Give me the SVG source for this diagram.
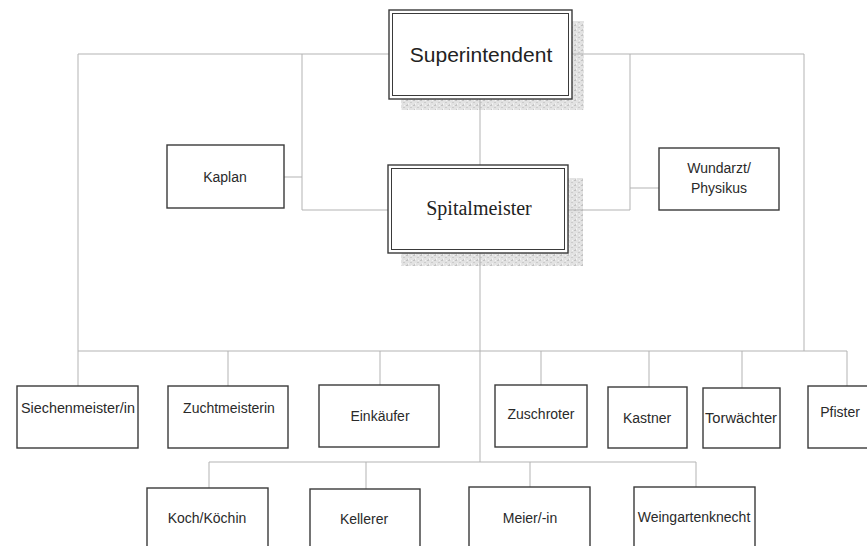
<svg xmlns="http://www.w3.org/2000/svg" width="867" height="546" viewBox="0 0 867 546">
<defs>
<pattern id="noise" width="7" height="5" patternUnits="userSpaceOnUse">
<rect width="7" height="5" fill="#e2e2e2"/>
<rect x="0" y="0" width="2" height="1" fill="#c2c2c2"/>
<rect x="4" y="2" width="2" height="1" fill="#cbcbcb"/>
<rect x="2" y="3" width="1" height="2" fill="#f2f2f2"/>
<rect x="5" y="0" width="1" height="1" fill="#f4f4f4"/>
<rect x="1" y="4" width="1" height="1" fill="#c8c8c8"/>
</pattern>
</defs>
<style>
.box{fill:#ffffff;stroke:#3a3a3a;stroke-width:1.4}
.inner{fill:none;stroke:#3a3a3a;stroke-width:1}
.shadow{fill:url(#noise)}
.conn{fill:none;stroke:#b3b3b3;stroke-width:1}
.t{font-family:"Liberation Sans",Arial,sans-serif;font-size:14px;fill:#2a2a2a;text-anchor:middle}
.big{font-family:"Liberation Sans",Arial,sans-serif;font-size:21px;fill:#222;text-anchor:middle}
.serif{font-family:"Liberation Serif","Times New Roman",serif;font-size:20px;fill:#222;text-anchor:middle}
</style>
<rect width="867" height="546" fill="#ffffff"/>
<g id="shadows">
<rect class="shadow" x="401" y="21" width="183" height="89"/>
<rect class="shadow" x="401" y="178" width="182" height="88"/>
</g>
<g id="connectors">
<path class="conn" d="M78,54 H804"/>
<path class="conn" d="M78,54 V386"/>
<path class="conn" d="M804,54 V351"/>
<path class="conn" d="M302,54 V210 H388"/>
<path class="conn" d="M284,177 H302"/>
<path class="conn" d="M630,54 V210 H568"/>
<path class="conn" d="M659,188 H630"/>
<path class="conn" d="M480,99 V165"/>
<path class="conn" d="M480,253 V462"/>
<path class="conn" d="M78,351 H847"/>
<path class="conn" d="M228,351 V386 M380,351 V385 M541,351 V385 M649,351 V387 M742,351 V388 M847,351 V386"/>
<path class="conn" d="M209,462 H696"/>
<path class="conn" d="M209,462 V488 M366,462 V489 M530,462 V487 M696,462 V487"/>
</g>
<g id="superintendent">
<rect class="box" x="389" y="10" width="183" height="89"/>
<rect class="inner" x="392.5" y="13.5" width="176" height="82"/>
<text class="big" x="481" y="62">Superintendent</text>
</g>
<g id="spitalmeister">
<rect class="box" x="388" y="165" width="180" height="88"/>
<rect class="inner" x="391.5" y="168.5" width="173" height="81"/>
<text class="serif" x="479" y="215">Spitalmeister</text>
</g>
<g id="kaplan">
<rect class="box" x="167" y="145" width="117" height="63"/>
<text class="t" x="225" y="182">Kaplan</text>
</g>
<g id="wundarzt">
<rect class="box" x="659" y="148" width="120" height="62"/>
<text class="t" x="719" y="173">Wundarzt/</text>
<text class="t" x="719" y="193">Physikus</text>
</g>
<g id="siechenmeister">
<rect class="box" x="17" y="386" width="121" height="62"/>
<text class="t" x="78" y="413" textLength="114" lengthAdjust="spacingAndGlyphs">Siechenmeister/in</text>
</g>
<g id="zuchtmeisterin">
<rect class="box" x="168" y="386" width="120" height="62"/>
<text class="t" x="229" y="413">Zuchtmeisterin</text>
</g>
<g id="einkaeufer">
<rect class="box" x="319" y="385" width="120" height="62"/>
<text class="t" x="380" y="421">Einkäufer</text>
</g>
<g id="zuschroter">
<rect class="box" x="495" y="385" width="92" height="62"/>
<text class="t" x="541" y="419">Zuschroter</text>
</g>
<g id="kastner">
<rect class="box" x="608" y="387" width="79" height="61"/>
<text class="t" x="647" y="423">Kastner</text>
</g>
<g id="torwaechter">
<rect class="box" x="703" y="388" width="77" height="60"/>
<text class="t" x="741" y="423" textLength="72" lengthAdjust="spacingAndGlyphs">Torwächter</text>
</g>
<g id="pfister">
<rect class="box" x="808" y="386" width="70" height="62"/>
<text class="t" x="840" y="417">Pfister</text>
</g>
<g id="koch">
<rect class="box" x="147" y="488" width="121" height="72"/>
<text class="t" x="207" y="523">Koch/Köchin</text>
</g>
<g id="kellerer">
<rect class="box" x="310" y="489" width="110" height="71"/>
<text class="t" x="364" y="524">Kellerer</text>
</g>
<g id="meier">
<rect class="box" x="469" y="487" width="121" height="73"/>
<text class="t" x="530" y="523">Meier/-in</text>
</g>
<g id="weingartenknecht">
<rect class="box" x="634" y="487" width="121" height="73"/>
<text class="t" x="694" y="522">Weingartenknecht</text>
</g>
</svg>
